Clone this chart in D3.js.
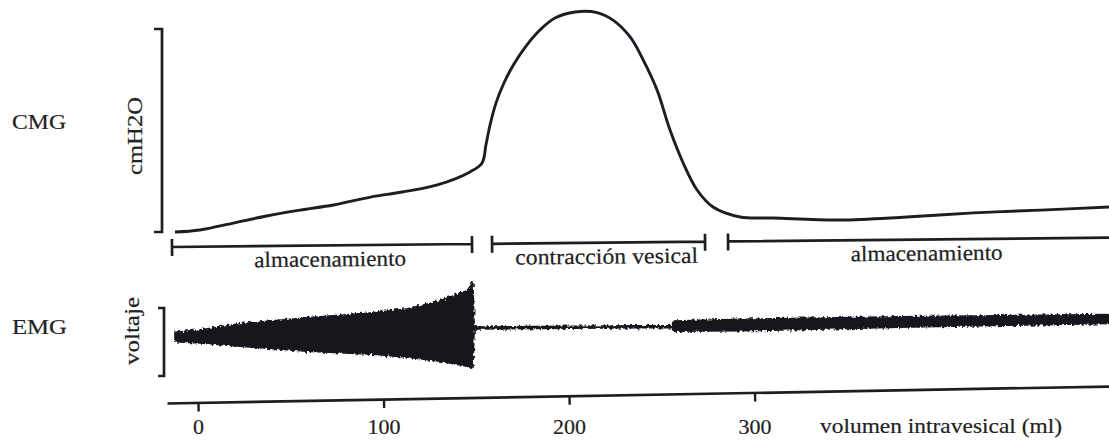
<!DOCTYPE html>
<html>
<head>
<meta charset="utf-8">
<script src="https://cdn.jsdelivr.net/npm/d3@7"></script>
<style>
  body { margin: 0; background: #fff; }
  text { font-family: "Liberation Serif", "Times New Roman", serif; fill: #222; stroke: #222; stroke-width: 0.2px; }
</style>
</head>
<body>
<div id="graphCMG"></div>
<script>
// volume (ml) on x, shared by both traces
const cmgVol = [-12.4, 1, 19, 37, 55, 73, 93, 110, 129, 146.6, 153.1, 155.2, 157.4, 160.6, 164.9, 170.3, 176.8, 184.3, 192.4, 203.2, 215.1, 223.7, 232.9, 240, 247.4, 254.4, 261.5, 269, 277.6, 292.2, 310, 346, 382, 418, 454, 491];
const cmgPres = [0, 1, 4.4, 7.9, 10.8, 13.3, 17.2, 19.7, 23.2, 29.6, 34, 42.9, 52.7, 63.5, 73.4, 82.8, 91.6, 99.5, 105.4, 108.4, 108.1, 104.4, 96.1, 84.7, 70, 50.2, 34, 20.7, 12.3, 7.4, 6.9, 5.9, 7.4, 9.4, 10.8, 12.3];

// EMG envelope: centre and half amplitude
const emgVol = [-12.4, 1, 22.6, 58.8, 94.3, 113, 130.5, 145, 148.2, 148.8, 255.5, 256.6, 292, 378, 491];
const emgMid = [7.4, 8.1, 10.3, 11, 12.5, 13.2, 16.2, 19.9, 24.3, 20.6, 22.8, 23.5, 25, 29.4, 33.8];
const emgAmp = [7, 9.5, 16.5, 24.5, 30.5, 35.5, 44.5, 55.5, 63, 1.4, 1.4, 7.5, 8.5, 7.5, 6.5];

// phases
const phaseNames = ["almacenamiento", "contracción vesical", "almacenamiento"];
const phaseStart = [-14, 158.5, 285.7];
const phaseEnd = [147.7, 273.3, 520];

const ticks = [0, 100, 200, 300];

const width = 1109, height = 442;
const ink = "#1c1e23";

const svg = d3.select("#graphCMG")
  .append("svg")
  .attr("width", width)
  .attr("height", height);

// scanned-ink roughness for the EMG band
const rough = svg.append("defs").append("filter").attr("id", "rough")
  .attr("x", "-2%").attr("y", "-20%").attr("width", "104%").attr("height", "140%");
rough.append("feTurbulence").attr("type", "fractalNoise").attr("baseFrequency", "0.4 0.25").attr("numOctaves", 2).attr("seed", 4);
rough.append("feDisplacementMap").attr("in", "SourceGraphic").attr("scale", 5);

const x = d3.scaleLinear().domain([-16.7, 491]).range([167, 1109]);
const yP = d3.scaleLinear().domain([0, 100]).range([232, 29]);
const yV = d3.scaleLinear().domain([-50, 50]).range([376, 308]);

// row labels
svg.append("text").text("CMG").attr("x", 12).attr("y", 129)
  .attr("font-size", 22).attr("textLength", 54).attr("lengthAdjust", "spacingAndGlyphs");
svg.append("text").text("EMG").attr("x", 12).attr("y", 334)
  .attr("font-size", 22).attr("textLength", 55).attr("lengthAdjust", "spacingAndGlyphs");

svg.append("text").text("cmH2O")
  .attr("transform", "translate(142,136) rotate(-90)")
  .attr("text-anchor", "middle").attr("font-size", 22)
  .attr("textLength", 78).attr("lengthAdjust", "spacingAndGlyphs");
svg.append("text").text("voltaje")
  .attr("transform", "translate(139,331) rotate(-90)")
  .attr("text-anchor", "middle").attr("font-size", 22)
  .attr("textLength", 68).attr("lengthAdjust", "spacingAndGlyphs");

// scale brackets
function bracket(xp, y0, y1, arm) {
  svg.append("path")
    .attr("d", `M${xp - arm},${y0}H${xp}V${y1}H${xp - arm}`)
    .attr("fill", "none").attr("stroke", ink).attr("stroke-width", 2.7);
}
bracket(162, yP(100), yP(0), 8);
bracket(164, yV(50), yV(-50), 6);

// CMG trace
const cmg = cmgVol.map((v, i) => ({v: v, p: cmgPres[i]}));
svg.append("path")
  .datum(cmg)
  .attr("fill", "none")
  .attr("stroke", ink)
  .attr("stroke-width", 2.9)
  .attr("stroke-linejoin", "round")
  .attr("d", d3.line().x(d => x(d.v)).y(d => yP(d.p)).curve(d3.curveCatmullRom.alpha(0.5)));

// EMG envelope
const emg = emgVol.map((v, i) => ({v: v, m: emgMid[i], a: emgAmp[i]}));
svg.append("path")
  .datum(emg)
  .attr("fill", "#16181c")
  .attr("stroke", "#16181c")
  .attr("stroke-width", 1.6)
  .attr("filter", "url(#rough)")
  .attr("d", d3.area().x(d => x(d.v)).y0(d => yV(d.m - d.a)).y1(d => yV(d.m + d.a)));

// phase brackets (scan is slightly tilted)
const ph = svg.append("g").attr("transform", "rotate(-0.57, 172, 247)");
phaseNames.forEach(function(name, i) {
  const x0 = x(phaseStart[i]), x1 = x(phaseEnd[i]);
  ph.append("path")
    .attr("d", `M${x0},${239}V${256}M${x0},${247}H${x1}M${x1},${239}V${256}`)
    .attr("fill", "none").attr("stroke", ink).attr("stroke-width", 2.7);
  ph.append("text")
    .text(name)
    .attr("x", (x0 + Math.min(x1, width)) / 2 + 8)
    .attr("y", 268)
    .attr("text-anchor", "middle")
    .attr("font-size", 22)
    .attr("textLength", name.length > 15 ? 183 : 152)
    .attr("lengthAdjust", "spacingAndGlyphs");
});

// volume axis: line and ticks tilted, labels level
const axLine = svg.append("g")
  .attr("transform", "translate(0,403) rotate(-1.03, 167, 0)")
  .call(d3.axisBottom(x).tickValues(ticks).tickSize(9).tickSizeOuter(0).tickFormat(""));
axLine.select(".domain").attr("stroke", ink).attr("stroke-width", 2.7);
axLine.selectAll(".tick line").attr("stroke", ink).attr("stroke-width", 2.4);

const axText = svg.append("g")
  .attr("transform", "translate(0,403)")
  .call(d3.axisBottom(x).tickValues(ticks).tickSize(0));
axText.select(".domain").remove();
axText.selectAll("text")
  .attr("y", 31).attr("dy", null)
  .attr("font-size", 22)
  .style("font-family", "Liberation Serif")
  .attr("fill", "#222");

svg.append("text")
  .text("volumen intravesical (ml)")
  .attr("x", 820).attr("y", 433)
  .attr("font-size", 22)
  .attr("textLength", 242).attr("lengthAdjust", "spacingAndGlyphs");
</script>
</body>
</html>
